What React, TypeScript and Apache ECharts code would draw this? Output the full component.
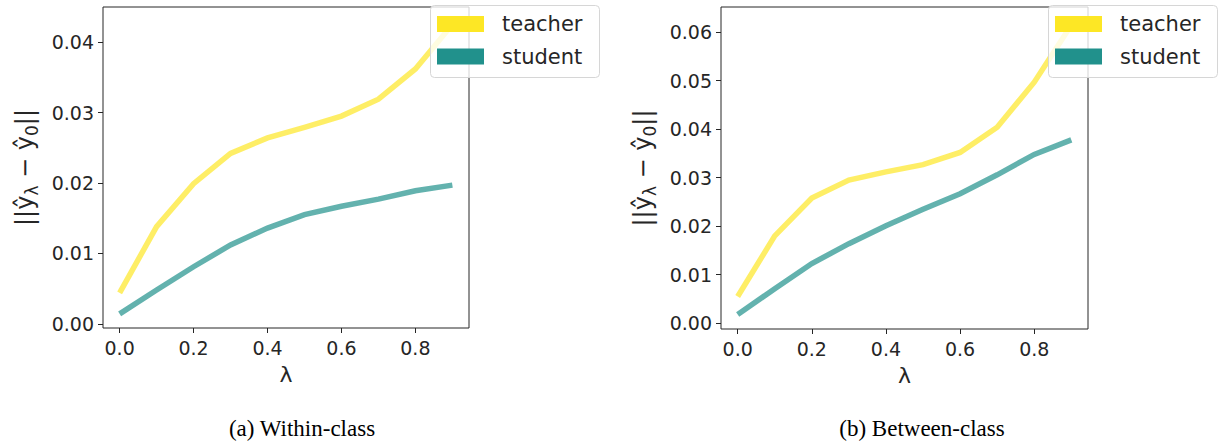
import React, { useEffect, useRef } from 'react';
import * as echarts from 'echarts';

const lambdas = [0, 0.1, 0.2, 0.3, 0.4, 0.5, 0.6, 0.7, 0.8, 0.9];
const teacherWithin = [0.0044, 0.0138, 0.0199, 0.0242, 0.0264, 0.0279, 0.0295, 0.0319, 0.0362, 0.0425];
const studentWithin = [0.0014, 0.0048, 0.0081, 0.0112, 0.0136, 0.0155, 0.0167, 0.0177, 0.0189, 0.0197];
const teacherBetween = [0.0055, 0.018, 0.0258, 0.0295, 0.0312, 0.0327, 0.0352, 0.0404, 0.0497, 0.0615];
const studentBetween = [0.0018, 0.0071, 0.0123, 0.0164, 0.0201, 0.0235, 0.0267, 0.0306, 0.0348, 0.0378];

const xTicks = [0, 0.2, 0.4, 0.6, 0.8];
const yTicksWithin = [0, 0.01, 0.02, 0.03, 0.04];
const yTicksBetween = [0, 0.01, 0.02, 0.03, 0.04, 0.05, 0.06];

const seriesNames = ['teacher', 'student'];
const captions = ['(a) Within-class', '(b) Between-class'];
const xName = 'λ';
const yName = '||ŷ{s|λ} − ŷ{s|0}||';

const YELLOW = '#fde725';
const TEAL = '#21918c';
const FONT = '"DejaVu Sans", sans-serif';
const SERIF = '"Liberation Serif", "Times New Roman", serif';
const INK = '#262626';

function pairs(xs: number[], ys: number[]) {
  return xs.map((x, i) => [x, ys[i]]);
}

export default function App() {
  const ref = useRef<HTMLDivElement>(null);

  useEffect(() => {
    if (!ref.current) return;
    const chart = echarts.init(ref.current, undefined, { renderer: 'svg' });

    const grids = [
      { left: 103, top: 7, width: 366, height: 321 },
      { left: 721, top: 7, width: 367, height: 322 },
    ];
    const yRanges = [
      { min: -0.0006, max: 0.045, ticks: yTicksWithin },
      { min: -0.0012, max: 0.0652, ticks: yTicksBetween },
    ];

    const xAxis = grids.map((_, i) => ({
      type: 'value',
      gridIndex: i,
      min: -0.045,
      max: 0.945,
      axisLine: { show: false, onZero: false },
      splitLine: { show: false },
      axisTick: { show: true, customValues: xTicks, length: 5, lineStyle: { color: INK, width: 1 } },
      axisLabel: {
        customValues: xTicks,
        formatter: (v: number) => v.toFixed(1),
        fontSize: 19,
        fontFamily: FONT,
        color: INK,
        margin: 10,
      },
      name: xName,
      nameLocation: 'middle',
      nameGap: 35,
      nameTextStyle: { fontSize: 22, fontFamily: FONT, color: INK },
    }));

    const yAxis = grids.map((_, i) => ({
      type: 'value',
      gridIndex: i,
      min: yRanges[i].min,
      max: yRanges[i].max,
      axisLine: { show: false, onZero: false },
      splitLine: { show: false },
      axisTick: { show: true, customValues: yRanges[i].ticks, length: 5, lineStyle: { color: INK, width: 1 } },
      axisLabel: {
        customValues: yRanges[i].ticks,
        formatter: (v: number) => v.toFixed(2),
        fontSize: 19,
        fontFamily: FONT,
        color: INK,
        margin: 9,
      },
      name: yName,
      nameLocation: 'middle',
      nameRotate: 90,
      nameGap: 63,
      nameTextStyle: {
        fontSize: 24,
        fontFamily: FONT,
        color: INK,
        lineHeight: 30,
        rich: {
          s: { fontSize: 17, fontFamily: FONT, color: INK, lineHeight: 17, verticalAlign: 'bottom' },
        },
      },
    }));

    const datasets = [
      [teacherWithin, studentWithin],
      [teacherBetween, studentBetween],
    ];
    const colors = [YELLOW, TEAL];

    const series: any[] = [];
    datasets.forEach((pair, gi) => {
      pair.forEach((vals, si) => {
        series.push({
          type: 'line',
          name: seriesNames[si],
          xAxisIndex: gi,
          yAxisIndex: gi,
          data: pairs(lambdas, vals),
          showSymbol: false,
          symbol: 'none',
          itemStyle: { color: colors[si] },
          lineStyle: { color: colors[si], width: 5.5, opacity: 0.7, cap: 'butt', join: 'miter' },
          z: 2,
        });
      });
    });

    // legend boxes drawn as graphics (one per panel)
    const legendLefts = [430, 1048];
    const legendGraphics: any[] = legendLefts.map((l) => ({
      type: 'group',
      x: l,
      y: 5,
      z: 10,
      children: [
        {
          type: 'rect',
          shape: { x: 0.5, y: 0.5, width: 169, height: 72, r: 4 },
          style: { fill: 'rgba(255,255,255,0.8)', stroke: '#d6d6d6', lineWidth: 1 },
          z: 10,
        },
        ...seriesNames.flatMap((n, si) => [
          {
            type: 'rect',
            shape: { x: 7, y: 11 + si * 32.5, width: 47, height: 16 },
            style: { fill: colors[si] },
            z: 11,
          },
          {
            type: 'text',
            x: 72,
            y: 19 + si * 32.5,
            style: {
              text: n,
              fontSize: 21,
              fontFamily: FONT,
              fill: INK,
              align: 'left',
              verticalAlign: 'middle',
            },
            z: 11,
          },
        ]),
      ],
    }));

    const captionXs = [302, 922];
    const captionGraphics = captions.map((c, i) => ({
      type: 'text',
      x: captionXs[i],
      y: 428,
      style: {
        text: c,
        fontSize: 23,
        fontFamily: SERIF,
        fill: '#000',
        align: 'center',
        verticalAlign: 'middle',
      },
    }));

    chart.setOption({
      animation: false,
      backgroundColor: '#fff',
      grid: grids.map((g) => ({ ...g, show: true, borderColor: INK, borderWidth: 1, backgroundColor: 'transparent', containLabel: false })),
      xAxis,
      yAxis,
      series,
      graphic: [...legendGraphics, ...captionGraphics],
    });

    return () => chart.dispose();
  }, []);

  return <div ref={ref} style={{ position: 'absolute', left: 0, top: 0, width: 1225, height: 443 }} />;
}
